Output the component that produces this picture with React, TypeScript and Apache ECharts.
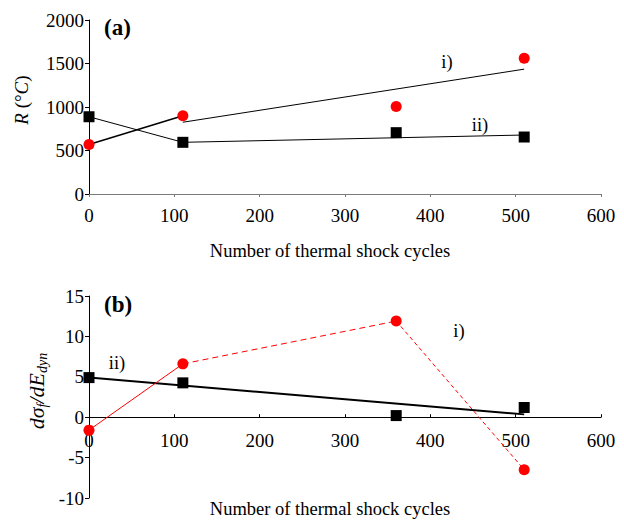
import React, { useEffect, useRef } from "react";
import * as echarts from "echarts";

// ---- data (a) ----
const circlesA: number[][] = [[0, 570], [110, 900], [360, 1005], [510, 1560]];
const squaresA: number[][] = [[0, 888], [110, 594], [360, 705], [510, 655]];
const linkCircleA: number[][] = [[0, 570], [110, 900]];
const linkSquareA: number[][] = [[0, 888], [110, 594]];
const trendA_i: number[][] = [[110, 825], [510, 1435]];
const trendA_ii: number[][] = [[110, 594], [510, 678]];

// ---- data (b) ----
const circlesB: number[][] = [[0, -1.6], [110, 6.6], [360, 11.9], [510, -6.5]];
const squaresB: number[][] = [[0, 4.9], [110, 4.25], [360, 0.2], [510, 1.2]];
const redSolidB: number[][] = [[0, -1.6], [110, 6.6]];
const redDashB: number[][] = [[110, 6.6], [360, 11.9]];
const redDotB: number[][] = [[360, 11.9], [510, -6.5]];
const trendB_ii: number[][] = [[0, 4.9], [510, 0.35]];

const xTicks = [0, 100, 200, 300, 400, 500, 600];
const yTicksA = [0, 500, 1000, 1500, 2000];
const yTicksB = [-10, -5, 0, 5, 10, 15];

const FONT = "Liberation Serif";
const GRID_B_HEIGHT = 202;

export default function App() {
  const ref = useRef<HTMLDivElement>(null);
  useEffect(() => {
    if (!ref.current) return;
    const chart = echarts.init(ref.current, null, { renderer: "svg" });
    const lab = {
      color: "#000",
      fontFamily: FONT,
      fontSize: 19,
      formatter: (v: number) => "{t|" + String(v) + "}",
      rich: { t: { fontFamily: FONT, fontSize: 19, color: "#000" } },
    };
    const lineSeries = (data: number[][], idx: number, color: string, width: number, type: any = "solid") => ({
      type: "line",
      data,
      xAxisIndex: idx,
      yAxisIndex: idx,
      symbol: "none",
      lineStyle: { color, width, type },
      z: 2,
    });
    const scatter = (data: number[][], idx: number, color: string, symbol: string, size: number) => ({
      type: "scatter",
      data,
      xAxisIndex: idx,
      yAxisIndex: idx,
      symbol,
      symbolSize: size,
      itemStyle: { color, opacity: 1 },
      clip: false,
      z: 3,
    });
    const zeroOffsetB = -GRID_B_HEIGHT * ((0 - yTicksB[0]) / (yTicksB[yTicksB.length - 1] - yTicksB[0]));
    const txt = (x: number, y: number, text: string, size = 18.5, bold = false, align = "center") => ({
      type: "text",
      x,
      y,
      style: { text, fontFamily: FONT, fontSize: size, fontWeight: bold ? "bold" : "normal", fill: "#000", align, verticalAlign: "middle" },
    });
    chart.setOption({
      animation: false,
      backgroundColor: "#fff",
      textStyle: { fontFamily: FONT },
      grid: [
        { left: 89, top: 20, width: 512, height: 174 },
        { left: 89, top: 296, width: 512, height: GRID_B_HEIGHT },
      ],
      xAxis: [0, 1].map((i) => ({
        type: "value",
        gridIndex: i,
        min: xTicks[0],
        max: xTicks[xTicks.length - 1],
        interval: 100,
        position: "bottom",
        offset: i === 1 ? zeroOffsetB : 0,
        splitLine: { show: false },
        axisLine: { onZero: false, lineStyle: { color: i === 0 ? "#7a7a7a" : "#000", width: 1 } },
        axisTick: { inside: i === 1, length: 3, lineStyle: { color: i === 0 ? "#7a7a7a" : "#000" } },
        axisLabel: { ...lab, margin: i === 0 ? 12 : 14 },
      })),
      yAxis: [
        {
          type: "value",
          gridIndex: 0,
          min: yTicksA[0],
          max: yTicksA[yTicksA.length - 1],
          interval: 500,
          splitLine: { show: false },
          axisLine: { show: true, lineStyle: { color: "#000" } },
          axisTick: { show: true, length: 4, lineStyle: { color: "#000" } },
          axisLabel: { ...lab, margin: 5 },
        },
        {
          type: "value",
          gridIndex: 1,
          min: yTicksB[0],
          max: yTicksB[yTicksB.length - 1],
          interval: 5,
          splitLine: { show: false },
          axisLine: { show: true, onZero: false, lineStyle: { color: "#000" } },
          axisTick: { show: true, length: 4, lineStyle: { color: "#000" } },
          axisLabel: { ...lab, margin: 5 },
        },
      ],
      series: [
        lineSeries(linkCircleA, 0, "#000", 1.5),
        lineSeries(linkSquareA, 0, "#000", 1),
        lineSeries(trendA_i, 0, "#000", 1),
        lineSeries(trendA_ii, 0, "#000", 1),
        scatter(circlesA, 0, "#ff0000", "circle", 11),
        scatter(squaresA, 0, "#000", "rect", 11),
        lineSeries(trendB_ii, 1, "#000", 2),
        lineSeries(redSolidB, 1, "#ff0000", 1),
        lineSeries(redDashB, 1, "#ff0000", 1, [6, 4]),
        lineSeries(redDotB, 1, "#ff0000", 1, [4, 3]),
        scatter(circlesB, 1, "#ff0000", "circle", 11),
        scatter(squaresB, 1, "#000", "rect", 11),
      ],
      graphic: [
        txt(104, 27, "(a)", 23, true, "left"),
        txt(104, 304, "(b)", 23, true, "left"),
        txt(447, 62, "i)"),
        txt(480, 125, "ii)"),
        txt(459, 331, "i)"),
        txt(117, 363, "ii)"),
        txt(330, 251, "Number of thermal shock cycles"),
        txt(330, 509, "Number of thermal shock cycles"),
        {
          type: "text",
          x: 21,
          y: 100,
          rotation: Math.PI / 2,
          style: {
            text: "{i|R} (°{i|C})",
            fontFamily: FONT,
            fontSize: 19,
            fill: "#000",
            align: "center",
            verticalAlign: "middle",
            rich: { i: { fontFamily: FONT, fontSize: 19, fontStyle: "italic", fill: "#000" } },
          },
        },
        {
          type: "text",
          x: 36,
          y: 391,
          rotation: Math.PI / 2,
          style: {
            text: "{m|dσ}{s|f}{m|/dE}{s|dyn}",
            fontFamily: FONT,
            fontSize: 22,
            fill: "#000",
            align: "center",
            verticalAlign: "middle",
            rich: {
              m: { fontFamily: FONT, fontSize: 22, fontStyle: "italic", fill: "#000", lineHeight: 26, verticalAlign: "middle" },
              s: { fontFamily: FONT, fontSize: 14, fontStyle: "italic", fill: "#000", lineHeight: 13, verticalAlign: "bottom" },
            },
          },
        },
      ],
    });
    return () => chart.dispose();
  }, []);
  return <div ref={ref} style={{ position: "fixed", left: 0, top: 0, width: 624, height: 520 }} />;
}
